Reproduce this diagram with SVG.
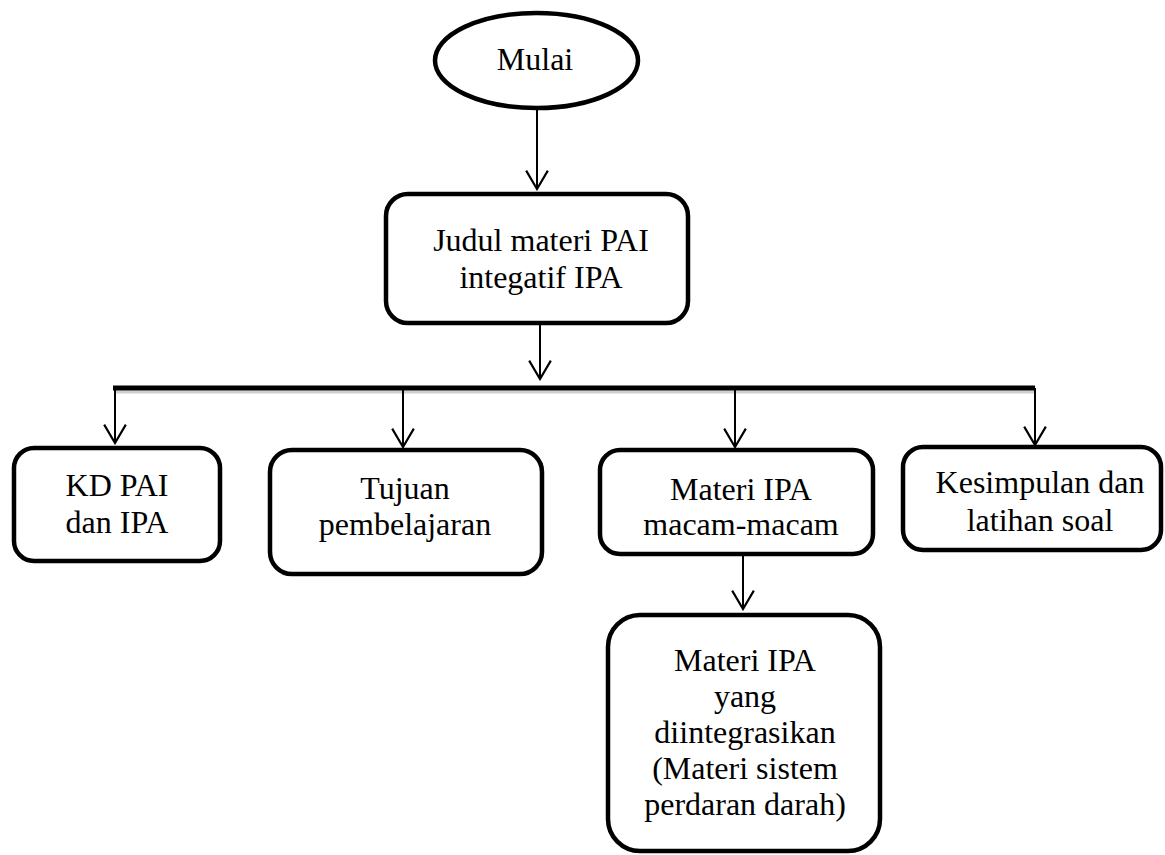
<svg xmlns="http://www.w3.org/2000/svg" width="1165" height="855" viewBox="0 0 1165 855">
  <style>
    .node { fill: #ffffff; stroke: #000000; stroke-width: 4.5; }
    .lbl { font-family: "Liberation Serif", "Times New Roman", serif; font-size: 32px; fill: #000000; text-anchor: middle; }
    .conn { stroke: #000000; stroke-width: 2; fill: none; }
    .bar { stroke: #000000; stroke-width: 5; fill: none; }
    .shadow { stroke: #b0b0b0; stroke-width: 3; fill: none; opacity: 0.6; }
  </style>
  <defs>
    <marker id="arrow" markerUnits="userSpaceOnUse" markerWidth="24" markerHeight="26" viewBox="-20 -12 22 24" refX="0" refY="0" orient="auto">
      <path d="M-17,-10 L0,0 L-17,10" fill="none" stroke="#000000" stroke-width="2"/>
    </marker>
  </defs>

  <g id="connectors">
    <line class="conn" x1="537" y1="108" x2="537" y2="189" marker-end="url(#arrow)"/>
    <line class="conn" x1="540" y1="323" x2="540" y2="379" marker-end="url(#arrow)"/>
    <line class="shadow" x1="115" y1="392" x2="1036" y2="392"/>
    <line class="bar" x1="113" y1="388" x2="1035" y2="388"/>
    <line class="conn" x1="115" y1="388" x2="115" y2="443" marker-end="url(#arrow)"/>
    <line class="conn" x1="403" y1="388" x2="403" y2="447" marker-end="url(#arrow)"/>
    <line class="conn" x1="735" y1="388" x2="735" y2="447" marker-end="url(#arrow)"/>
    <line class="conn" x1="1035" y1="388" x2="1035" y2="445" marker-end="url(#arrow)"/>
    <line class="conn" x1="743" y1="554" x2="743" y2="609" marker-end="url(#arrow)"/>
  </g>

  <g id="node-mulai">
    <ellipse class="node" cx="536.5" cy="60.5" rx="101.5" ry="47.5"/>
    <text class="lbl" x="535" y="70">Mulai</text>
  </g>

  <g id="node-judul">
    <rect class="node" x="386" y="194" width="302" height="129" rx="22" ry="22"/>
    <text class="lbl" x="541" y="251">Judul materi PAI</text>
    <text class="lbl" x="541" y="288">integatif IPA</text>
  </g>

  <g id="node-kd">
    <rect class="node" x="14" y="448" width="206" height="113" rx="20" ry="20"/>
    <text class="lbl" x="117" y="496">KD PAI</text>
    <text class="lbl" x="117" y="533">dan IPA</text>
  </g>

  <g id="node-tujuan">
    <rect class="node" x="270" y="450" width="272" height="124" rx="22" ry="22"/>
    <text class="lbl" x="405" y="499">Tujuan</text>
    <text class="lbl" x="405" y="535">pembelajaran</text>
  </g>

  <g id="node-materi">
    <rect class="node" x="600" y="450" width="273" height="104" rx="20" ry="20"/>
    <text class="lbl" x="741" y="500">Materi IPA</text>
    <text class="lbl" x="741" y="535">macam-macam</text>
  </g>

  <g id="node-kesimpulan">
    <rect class="node" x="903" y="447" width="258" height="103" rx="20" ry="20"/>
    <text class="lbl" x="1040" y="493">Kesimpulan dan</text>
    <text class="lbl" x="1040" y="531">latihan soal</text>
  </g>

  <g id="node-integrasi">
    <rect class="node" x="608" y="615" width="272" height="236" rx="32" ry="32"/>
    <text class="lbl" x="745" y="671">Materi IPA</text>
    <text class="lbl" x="745" y="707">yang</text>
    <text class="lbl" x="745" y="743">diintegrasikan</text>
    <text class="lbl" x="745" y="779">(Materi sistem</text>
    <text class="lbl" x="745" y="815">perdaran darah)</text>
  </g>
</svg>
